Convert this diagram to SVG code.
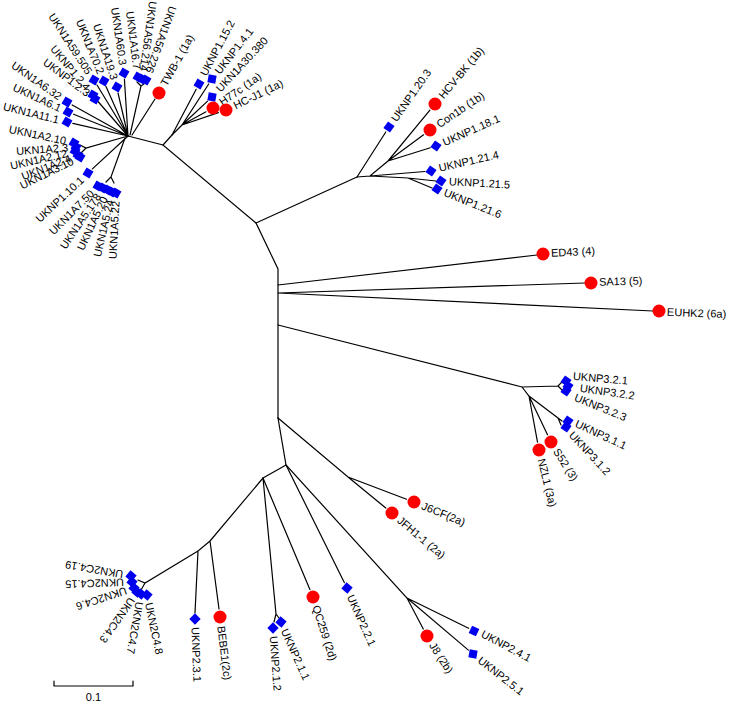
<svg xmlns="http://www.w3.org/2000/svg" width="730" height="703" viewBox="0 0 730 703">
<style>
.e{fill:none;stroke:#000;stroke-width:1.2;stroke-linecap:round}
.sq{fill:#0000ee}
.ci{fill:#ff0000}
text{font-family:"Liberation Sans",Arial,sans-serif;font-size:11px;fill:#000}
.s{text-anchor:start}
.n{text-anchor:end}
</style>
<defs>
<rect id="q" x="-4" y="-4" width="8" height="8" class="sq"/>
<circle id="c" r="6.5" class="ci"/>
</defs>
<rect width="730" height="703" fill="#fff"/>
<g id="connectors" class="e">
<!-- backbone -->
<path d="M128,136 L163,145 L256,223 L278,269 L278,418"/>
<path d="M163,145 L172,135"/>
<path d="M256,223 L357,177"/>
<!-- left 1a cluster -->
<path d="M128,136 L97,85 M128,136 L106,86.5 M128,136 L118,93 M128,136 L124.4,79 M130,135 L141,86 L137,82 M141,86 L144,84"/>
<path d="M128,136 L98,101.5 M128,136 L72.2,104.9 M128,136 L73.6,114.2 M128,136 L72.8,123.3"/>
<path d="M128,136 L86,148 L80,145 M86,148 L81,153"/>
<path d="M128,136 L92.4,168.9"/>
<path d="M125,138 L111,177 L106,182 M111,177 L114,183"/>
<path d="M132,135 L155,99"/>
<!-- right 1a cluster -->
<path d="M172,135 L196.2,89.3 M172,135 L182,125 L208.7,84 M182,125 L207.6,101.1 M182,125 L206,111.8 M182,125 L218.4,112.6"/>
<!-- 1b -->
<path d="M357,177 L385.8,132 M357,177 L370,176 L388,161 L429.9,110.2 M388,161 L423.6,134.8 M388,161 L430.3,147.8 M370,176 L425,171.5 M370,176 L408,178 L436,181 M408,178 L432,188"/>
<!-- 4 5 6 -->
<path d="M278,285 L537,255 M278,293 L585,283 M278,293 L653,311"/>
<!-- 3 -->
<path d="M278,325 L522,387 L558,386 L562,382 M558,386 L562,390 M522,387 L529,396 L558,418 L562,421 M558,418 L561,425 M529,396 L547.5,434.8 M529,396 L537.5,442.1"/>
<!-- 2 -->
<path d="M278,418 L348,477 L406.5,499.2 M348,477 L385.8,508"/>
<path d="M278,418 L286,465 L407,598 L423.3,629 M407,598 L468.6,628.3 M407,598 L468.4,650.1"/>
<path d="M286,465 L344.3,582.6 M286,465 L263,478 L309.9,589.6 M263,478 L276,614 L274,622 M276,614 L279,618"/>
<path d="M263,478 L210,541 L219,609 M210,541 L198,551 L195,613 M198,551 L145,583 L138,580 M145,583 L141,590"/>
<!-- scale bar -->
<path d="M54,681 L54,686 L133,686 L133,681"/>
</g>
<g id="scale"><text x="93.5" y="701" text-anchor="middle">0.1</text></g>

<!-- left cluster leaves -->
<g id="UKN1A59.505"><use href="#q" transform="translate(94,80) rotate(30)"/><text class="n" dy="0.35em" transform="translate(89.6,73.3) rotate(57)">UKN1A59.505</text></g>
<g id="UKN1A70.2"><use href="#q" transform="translate(104,81) rotate(30)"/><text class="n" dy="0.35em" transform="translate(101,73.6) rotate(68)">UKN1A70.2</text></g>
<g id="UKN1A19.3"><use href="#q" transform="translate(117,87) rotate(30)"/><text class="n" dy="0.35em" transform="translate(114.5,79.4) rotate(72)">UKN1A19.3</text></g>
<g id="UKN1A60.3"><use href="#q" transform="translate(124,73) rotate(30)"/><text class="n" dy="0.35em" transform="translate(123,65) rotate(82)">UKN1A60.3</text></g>
<g id="UKN1A16.7"><use href="#q" transform="translate(138,77) rotate(30)"/><text class="n" dy="0.35em" transform="translate(137,69) rotate(83)">UKN1A16.7</text></g>
<g id="UKN1A56.214"><use href="#q" transform="translate(142,79) rotate(30)"/><text class="n" dy="0.35em" transform="translate(143.4,71) rotate(98)">UKN1A56.214</text></g>
<g id="UKN1A56.226"><use href="#q" transform="translate(146,80) rotate(30)"/><text class="n" dy="0.35em" transform="translate(149,72.6) rotate(110)">UKN1A56.226</text></g>
<g id="UKNP1.2.4"><use href="#q" transform="translate(93,95) rotate(30)"/><text class="n" dy="0.35em" transform="translate(88,89) rotate(50)">UKNP1.2.4</text></g>
<g id="UKNP1.2.3"><use href="#q" transform="translate(95,99) rotate(30)"/><text class="n" dy="0.35em" transform="translate(88.6,94) rotate(37)">UKNP1.2.3</text></g>
<g id="UKN1A6.32"><use href="#q" transform="translate(67,102) rotate(30)"/><text class="n" dy="0.35em" transform="translate(60.4,97.4) rotate(35)">UKN1A6.32</text></g>
<g id="UKN1A6.1"><use href="#q" transform="translate(68,112) rotate(30)"/><text class="n" dy="0.35em" transform="translate(60.7,108.6) rotate(25)">UKN1A6.1</text></g>
<g id="UKN1A11.1"><use href="#q" transform="translate(67,122) rotate(30)"/><text class="n" dy="0.35em" transform="translate(59,120) rotate(14)">UKN1A11.1</text></g>
<g id="UKN1A2.10"><use href="#q" transform="translate(74,143) rotate(30)"/><text class="n" dy="0.35em" transform="translate(66,141) rotate(12)">UKN1A2.10</text></g>
<g id="UKN1A2.3"><use href="#q" transform="translate(76,147) rotate(30)"/><text class="n" dy="0.35em" transform="translate(68,147.5) rotate(-4)">UKN1A2.3</text></g>
<g id="UKN1A2.12"><use href="#q" transform="translate(75,151) rotate(30)"/><text class="n" dy="0.35em" transform="translate(67,153) rotate(-13)">UKN1A2.12</text></g>
<g id="UKN1A2.4"><use href="#q" transform="translate(78,155) rotate(30)"/><text class="n" dy="0.35em" transform="translate(70.5,158) rotate(-21)">UKN1A2.4</text></g>
<g id="UKN1A3.10"><use href="#q" transform="translate(80,157) rotate(30)"/><text class="n" dy="0.35em" transform="translate(72.8,160.5) rotate(-26)">UKN1A3.10</text></g>
<g id="UKNP1.10.1"><use href="#q" transform="translate(88,173) rotate(30)"/><text class="n" dy="0.35em" transform="translate(82,178.5) rotate(-43)">UKNP1.10.1</text></g>
<g id="UKN1A7.50"><use href="#q" transform="translate(98,186) rotate(30)"/><text class="n" dy="0.35em" transform="translate(92,191.7) rotate(-45)">UKN1A7.50</text></g>
<g id="UKN1A5.178"><use href="#q" transform="translate(103,188) rotate(30)"/><text class="n" dy="0.35em" transform="translate(98.5,194.6) rotate(-56)">UKN1A5.178</text></g>
<g id="UKN1A5.20"><use href="#q" transform="translate(108,190) rotate(30)"/><text class="n" dy="0.35em" transform="translate(104.6,197) rotate(-65)">UKN1A5.20</text></g>
<g id="UKN1A5.24"><use href="#q" transform="translate(112,192) rotate(30)"/><text class="n" dy="0.35em" transform="translate(110,200) rotate(-77)">UKN1A5.24</text></g>
<g id="UKN1A5.22"><use href="#q" transform="translate(116,193) rotate(30)"/><text class="n" dy="0.35em" transform="translate(115.6,201) rotate(-87)">UKN1A5.22</text></g>
<g id="TWB-1"><use href="#c" x="159" y="93"/><text class="s" dy="0.35em" transform="translate(163.4,85.1) rotate(-61)">TWB-1 (1a)</text></g>

<!-- right 1a -->
<g id="UKNP1.15.2"><use href="#q" transform="translate(199,84) rotate(30)"/><text class="s" dy="0.35em" transform="translate(203,75) rotate(-62)">UKNP1.15.2</text></g>
<g id="UKNP1.4.1"><use href="#q" transform="translate(212,79) rotate(10)"/><text class="s" dy="0.35em" transform="translate(217,72.7) rotate(-52)">UKNP1.4.1</text></g>
<g id="UKN1A30.380"><use href="#q" transform="translate(212,97) rotate(10)"/><text class="s" dy="0.35em" transform="translate(218,90) rotate(-47)">UKN1A30.380</text></g>
<g id="H77c"><use href="#c" x="213" y="108"/><text class="s" dy="0.35em" transform="translate(220.4,102.8) rotate(-35)">H77c (1a)</text></g>
<g id="HC-J1"><use href="#c" x="226" y="110"/><text class="s" dy="0.35em" transform="translate(234,106) rotate(-26)">HC-J1 (1a)</text></g>

<!-- 1b -->
<g id="UKNP1.20.3"><use href="#q" transform="translate(389,127) rotate(35)"/><text class="s" dy="0.35em" transform="translate(393.6,120.4) rotate(-55)">UKNP1.20.3</text></g>
<g id="HCV-BK"><use href="#c" x="435" y="104"/><text class="s" dy="0.35em" transform="translate(440.8,97.1) rotate(-50)">HCV-BK (1b)</text></g>
<g id="Con1b"><use href="#c" x="430" y="130"/><text class="s" dy="0.35em" transform="translate(437.5,125) rotate(-34)">Con1b (1b)</text></g>
<g id="UKNP1.18.1"><use href="#q" transform="translate(436,146) rotate(35)"/><text class="s" dy="0.35em" transform="translate(443.3,142.7) rotate(-24)">UKNP1.18.1</text></g>
<g id="UKNP1.21.4"><use href="#q" transform="translate(431,171) rotate(35)"/><text class="s" dy="0.35em" transform="translate(439,168) rotate(-13)">UKNP1.21.4</text></g>
<g id="UKNP1.21.5"><use href="#q" transform="translate(441,181) rotate(35)"/><text class="s" dy="0.35em" transform="translate(449,181.4) rotate(3)">UKNP1.21.5</text></g>
<g id="UKNP1.21.6"><use href="#q" transform="translate(437,189) rotate(35)"/><text class="s" dy="0.35em" transform="translate(444.4,192) rotate(22)">UKNP1.21.6</text></g>

<!-- 4 5 6 -->
<g id="ED43"><use href="#c" x="543" y="254"/><text class="s" dy="0.35em" transform="translate(551,253) rotate(-3)">ED43 (4)</text></g>
<g id="SA13"><use href="#c" x="591" y="283"/><text class="s" dy="0.35em" transform="translate(599,282) rotate(-2)">SA13 (5)</text></g>
<g id="EUHK2"><use href="#c" x="659" y="311"/><text class="s" dy="0.35em" transform="translate(667,312) rotate(2)">EUHK2 (6a)</text></g>

<!-- 3 -->
<g id="UKNP3.2.1"><use href="#q" transform="translate(566,381) rotate(35)"/><text class="s" dy="0.35em" transform="translate(573,376) rotate(5)">UKNP3.2.1</text></g>
<g id="UKNP3.2.2"><use href="#q" transform="translate(568,386) rotate(35)"/><text class="s" dy="0.35em" transform="translate(580,388) rotate(8)">UKNP3.2.2</text></g>
<g id="UKNP3.2.3"><use href="#q" transform="translate(566,391) rotate(35)"/><text class="s" dy="0.35em" transform="translate(575,397) rotate(22)">UKNP3.2.3</text></g>
<g id="UKNP3.1.1"><use href="#q" transform="translate(568,421) rotate(35)"/><text class="s" dy="0.35em" transform="translate(576,423) rotate(25)">UKNP3.1.1</text></g>
<g id="UKNP3.1.2"><use href="#q" transform="translate(566,427) rotate(35)"/><text class="s" dy="0.35em" transform="translate(571,433) rotate(47)">UKNP3.1.2</text></g>
<g id="S52"><use href="#c" x="551" y="442"/><text class="s" dy="0.35em" transform="translate(555.9,449.5) rotate(57)">S52 (3)</text></g>
<g id="NZL1"><use href="#c" x="539" y="450"/><text class="s" dy="0.35em" transform="translate(541.2,458.7) rotate(76)">NZL1 (3a)</text></g>

<!-- 2 -->
<g id="J6CF"><use href="#c" x="414" y="502"/><text class="s" dy="0.35em" transform="translate(422.3,505.4) rotate(22)">J6CF(2a)</text></g>
<g id="JFH1-1"><use href="#c" x="392" y="513"/><text class="s" dy="0.35em" transform="translate(398.9,518.8) rotate(40)">JFH1-1 (2a)</text></g>
<g id="UKNP2.2.1"><use href="#q" transform="translate(347,588) rotate(40)"/><text class="s" dy="0.35em" transform="translate(350.3,595.3) rotate(66)">UKNP2.2.1</text></g>
<g id="QC259"><use href="#c" x="313" y="597"/><text class="s" dy="0.35em" transform="translate(315.8,605.6) rotate(72)">QC259 (2d)</text></g>
<g id="J8"><use href="#c" x="427" y="636"/><text class="s" dy="0.35em" transform="translate(431.9,643.5) rotate(57)">J8 (2b)</text></g>
<g id="UKNP2.4.1"><use href="#q" transform="translate(474,631) rotate(25)"/><text class="s" dy="0.35em" transform="translate(482,633) rotate(28)">UKNP2.4.1</text></g>
<g id="UKNP2.5.1"><use href="#q" transform="translate(473,654) rotate(10)"/><text class="s" dy="0.35em" transform="translate(479.3,658.9) rotate(38)">UKNP2.5.1</text></g>
<g id="UKNP2.1.1"><use href="#q" transform="translate(281,622) rotate(40)"/><text class="s" dy="0.35em" transform="translate(284.3,629.3) rotate(66)">UKNP2.1.1</text></g>
<g id="UKNP2.1.2"><use href="#q" transform="translate(273,628) rotate(45)"/><text class="s" dy="0.35em" transform="translate(273.6,636) rotate(86)">UKNP2.1.2</text></g>
<g id="BEBE1"><use href="#c" x="220" y="617"/><text class="s" dy="0.35em" transform="translate(221.1,626) rotate(83)">BEBE1(2c)</text></g>
<g id="UKNP2.3.1"><use href="#q" transform="translate(195,619) rotate(45)"/><text class="s" dy="0.35em" transform="translate(195.3,627) rotate(88)">UKNP2.3.1</text></g>
<g id="UKN2C4.8"><use href="#q" transform="translate(147,595) rotate(40)"/><text class="s" dy="0.35em" transform="translate(148.7,602.8) rotate(78)">UKN2C4.8</text></g>
<g id="UKN2C4.7"><use href="#q" transform="translate(141,594) rotate(40)"/><text class="s" dy="0.35em" transform="translate(139.6,601.9) rotate(100)">UKN2C4.7</text></g>
<g id="UKN2C4.3"><use href="#q" transform="translate(137,592) rotate(40)"/><text class="s" dy="0.35em" transform="translate(132.4,598.6) rotate(125)">UKN2C4.3</text></g>
<g id="UKN2C4.6"><use href="#q" transform="translate(134,588) rotate(40)"/><text class="s" dy="0.35em" transform="translate(126.4,590.5) rotate(162)">UKN2C4.6</text></g>
<g id="UKN2C4.15"><use href="#q" transform="translate(132,582) rotate(40)"/><text class="s" dy="0.35em" transform="translate(124,582.3) rotate(178)">UKN2C4.15</text></g>
<g id="UKN2C4.19"><use href="#q" transform="translate(131,576) rotate(40)"/><text class="s" dy="0.35em" transform="translate(123.1,574.6) rotate(190)">UKN2C4.19</text></g>
</svg>
